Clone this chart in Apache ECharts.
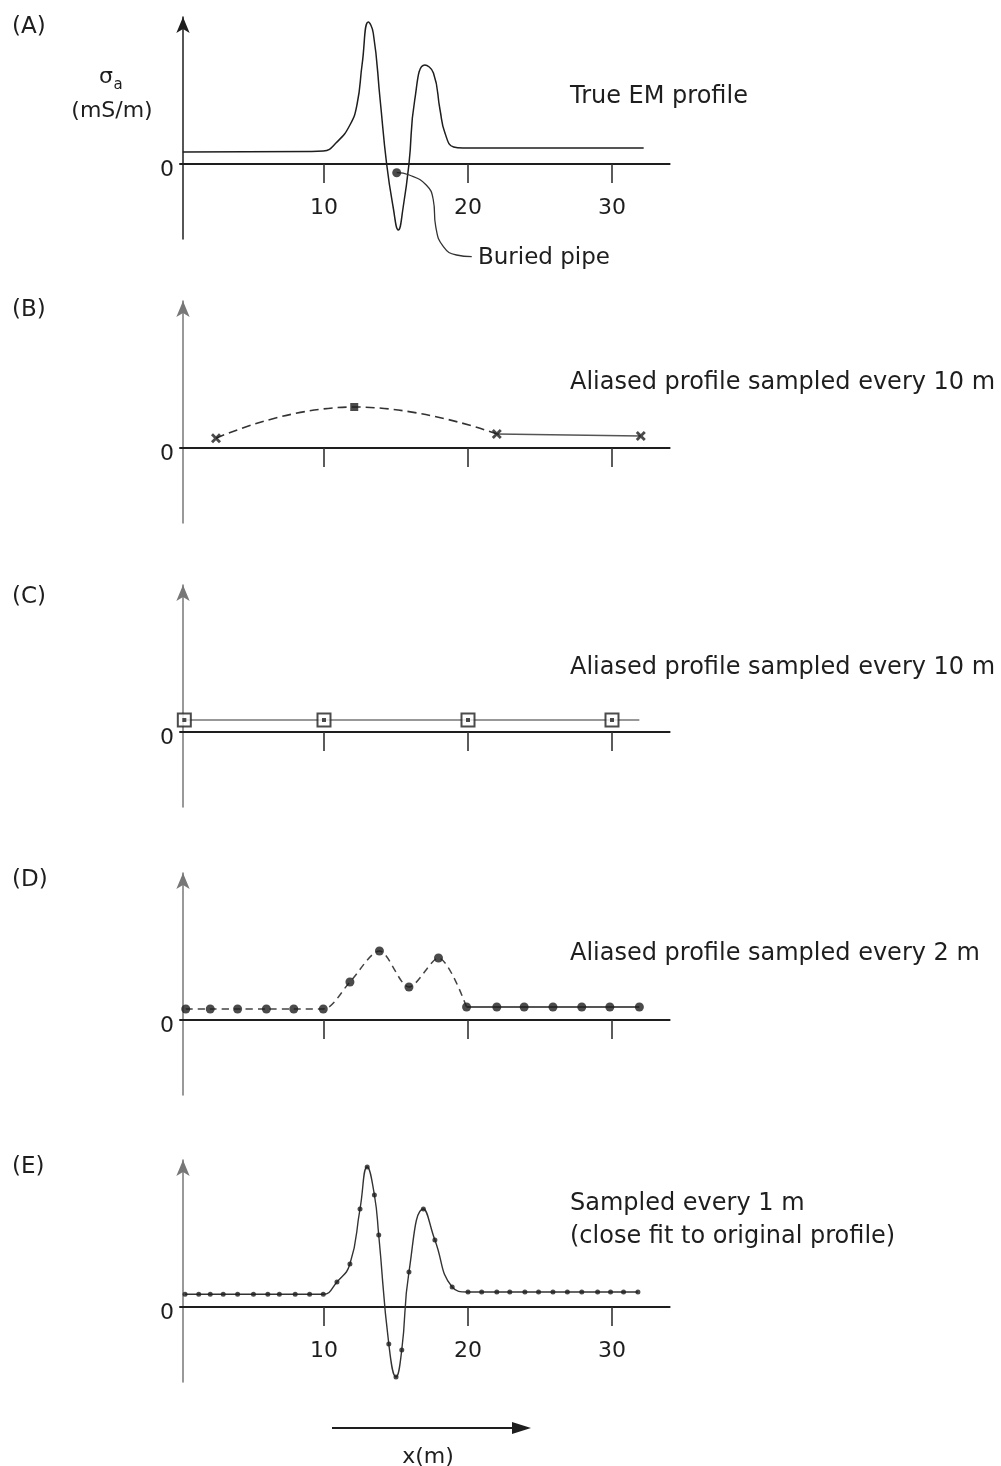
<!DOCTYPE html>
<html><head><meta charset="utf-8">
<script src="https://cdn.jsdelivr.net/npm/echarts@6/dist/echarts.min.js"></script>
<style>html,body{margin:0;padding:0;background:#fff}#c{width:1001px;height:1466px}</style>
</head><body><div id="c"></div>
<script>
// ---------- data (x in m, sigma_a in arbitrary units) ----------
const xTicks = [10, 20, 30];
// (A) true EM profile
const trueX = [0.2, 9.0, 9.95, 10.9, 11.8, 12.3, 12.65, 13.08, 13.42, 13.9, 14.35, 14.8, 15.16, 15.5, 15.9, 16.3, 17.0, 17.6, 18.06, 18.4, 19.0, 19.65, 32.2];
const trueV = [1.2, 1.25, 1.3, 2.2, 3.9, 6.0, 10.0, 14.2, 13.1, 6.4, 0, -4.3, -6.6, -4.3, 0, 6.4, 9.9, 9.1, 5.4, 3.1, 1.7, 1.6, 1.6];
const pipeX = [15.05];
const pipeV = [-0.87];
const leaderX = [15.05, 15.92, 17.1, 17.59, 17.76, 18.29, 19.2, 20.26];
const leaderV = [-0.87, -1.1, -2.1, -3.6, -6.27, -8.27, -9.1, -9.27];
// (B) sampled every 10 m (aliased)
const bX = [2.5, 12.1, 22, 32];
const bV = [0.97, 4.1, 1.4, 1.2];
// (C) sampled every 10 m (aliased)
const cX = [0.3, 10, 20, 30];
const cV = [1.2, 1.2, 1.2, 1.2];
const cTraceX = [0.3, 10, 20, 30, 31.9];
const cTraceV = [1.2, 1.2, 1.2, 1.2, 1.2];
// (D) sampled every 2 m
const dX = [0.4, 2.1, 4, 6, 7.9, 9.95, 11.8, 13.85, 15.9, 17.95, 19.9, 22, 23.9, 25.9, 27.9, 29.85, 31.9];
const dV = [1.1, 1.1, 1.1, 1.1, 1.1, 1.1, 3.8, 6.9, 3.3, 6.2, 1.3, 1.3, 1.3, 1.3, 1.3, 1.3, 1.3];
// (E) sampled every 1 m
const eX = [0.35, 1.3, 2.1, 3, 4, 5.1, 6.1, 6.9, 8, 9, 9.95, 10.9, 11.8, 12.5, 13, 13.5, 13.8, 14.5, 15, 15.4, 15.9, 16.9, 17.7, 18.9, 20, 20.95, 22, 22.9, 23.95, 24.9, 25.9, 26.9, 27.9, 29, 29.9, 30.8, 31.8];
const eV = [1.27, 1.27, 1.27, 1.27, 1.27, 1.27, 1.27, 1.27, 1.27, 1.27, 1.27, 2.5, 4.3, 9.8, 14.0, 11.2, 7.2, -3.7, -7.0, -4.3, 3.5, 9.8, 6.7, 2.0, 1.5, 1.5, 1.5, 1.5, 1.5, 1.5, 1.5, 1.5, 1.5, 1.5, 1.5, 1.5, 1.5];

const panelLabels = ['(A)', '(B)', '(C)', '(D)', '(E)'];
const panelNotes = [['True EM profile'], ['Aliased profile sampled every 10 m'], ['Aliased profile sampled every 10 m'], ['Aliased profile sampled every 2 m'], ['Sampled every 1 m', '(close fit to original profile)']];

// ---------- layout ----------
const FONT = 'DejaVu Sans';
const INK = '#1e1e1e';
const zeroY = [164, 448, 732, 1020, 1307];
const labelY = [27, 310, 597, 880, 1167];
const noteY = [[97], [383], [668], [954], [1204, 1237]];
const zip = (xs, vs) => xs.map((x, i) => [x, vs[i]]);
const crossPath = 'path://M2,0L5,3L8,0L10,2L7,5L10,8L8,10L5,7L2,10L0,8L3,5L0,2Z';

const grids = [], xAxes = [], yAxes = [];
zeroY.forEach((z, i) => {
  grids.push({left: 180, width: 34 * 14.4, top: z - 147, height: 222});
  xAxes.push({
    gridIndex: i, type: 'value', min: 0, max: 34, interval: 10, position: 'bottom', offset: -75,
    axisLine: {onZero: false, lineStyle: {color: INK, width: 2}},
    axisTick: {show: true, length: 19, customValues: xTicks, lineStyle: {color: '#333', width: 1.6}},
    axisLabel: {show: i === 0 || i === 4, customValues: xTicks, margin: 33, fontSize: 22, fontFamily: FONT, color: INK},
    splitLine: {show: false}
  });
  yAxes.push({
    gridIndex: i, type: 'value', min: -7.5, max: 14.7, interval: 7.5, offset: -3,
    axisLine: {show: true, onZero: false, symbol: ['none', 'arrow'], symbolSize: [10, 16],
      lineStyle: {color: i === 0 ? INK : '#777', width: 1.5}},
    axisTick: {show: false}, splitLine: {show: false},
    axisLabel: {formatter: v => (v === 0 ? '0' : ''), margin: 9, fontSize: 22, fontFamily: FONT, color: INK,
      verticalAlign: 'top', lineHeight: 12}
  });
});

const series = [
  // A
  {type: 'line', xAxisIndex: 0, yAxisIndex: 0, data: zip(trueX, trueV), smooth: 0.5, symbol: 'none', lineStyle: {color: INK, width: 1.5}, z: 3},
  {type: 'line', xAxisIndex: 0, yAxisIndex: 0, data: zip(leaderX, leaderV), smooth: 0.5, clip: false, symbol: 'none', lineStyle: {color: '#333', width: 1.3}},
  {type: 'scatter', xAxisIndex: 0, yAxisIndex: 0, data: zip(pipeX, pipeV), symbol: 'circle', symbolSize: 9, itemStyle: {color: INK}, z: 5},
  // B
  {type: 'line', xAxisIndex: 1, yAxisIndex: 1, data: zip(bX, bV).slice(0, 3), smooth: 0.5, symbol: 'none', lineStyle: {color: '#333', width: 1.6, type: [9, 5]}},
  {type: 'line', xAxisIndex: 1, yAxisIndex: 1, data: zip(bX, bV).slice(2), symbol: 'none', lineStyle: {color: '#555', width: 1.3}},
  {type: 'scatter', xAxisIndex: 1, yAxisIndex: 1, z: 5,
    data: zip(bX, bV).map((p, i) => ({value: p, symbol: i === 1 ? 'rect' : crossPath, symbolSize: i === 1 ? 8 : 10})),
    itemStyle: {color: INK}},
  // C
  {type: 'line', xAxisIndex: 2, yAxisIndex: 2, data: zip(cTraceX, cTraceV), symbol: 'none', lineStyle: {color: '#777', width: 1.3}},
  {type: 'scatter', xAxisIndex: 2, yAxisIndex: 2, data: zip(cX, cV), symbol: 'rect', symbolSize: 13, clip: false, z: 5,
    itemStyle: {color: '#fff', borderColor: INK, borderWidth: 2}},
  {type: 'scatter', xAxisIndex: 2, yAxisIndex: 2, data: zip(cX, cV), symbol: 'rect', symbolSize: 4, clip: false, z: 6, itemStyle: {color: INK}},
  // D
  {type: 'line', xAxisIndex: 3, yAxisIndex: 3, data: zip(dX, dV).slice(0, 11), smooth: 0.3, symbol: 'none', lineStyle: {color: '#444', width: 1.5, type: [7, 5]}},
  {type: 'line', xAxisIndex: 3, yAxisIndex: 3, data: zip(dX, dV).slice(10), symbol: 'none', lineStyle: {color: INK, width: 1.5}},
  {type: 'scatter', xAxisIndex: 3, yAxisIndex: 3, data: zip(dX, dV), symbol: 'circle', symbolSize: 9, clip: false, z: 5, itemStyle: {color: INK}},
  // E
  {type: 'line', xAxisIndex: 4, yAxisIndex: 4, data: zip(eX, eV), smooth: 0.5, symbol: 'none', lineStyle: {color: '#333', width: 1.4}},
  {type: 'scatter', xAxisIndex: 4, yAxisIndex: 4, data: zip(eX, eV), symbol: 'circle', symbolSize: 5, clip: false, z: 5, itemStyle: {color: INK}}
];

// ---------- annotations ----------
const graphic = [];
panelLabels.forEach((t, i) => graphic.push({type: 'text', x: 12, y: labelY[i], style: {text: t, font: '23px ' + FONT, fill: INK, verticalAlign: 'middle'}}));
panelNotes.forEach((lines, i) => lines.forEach((t, j) => graphic.push({type: 'text', x: 570, y: noteY[i][j], style: {text: t, font: '24px ' + FONT, fill: INK, verticalAlign: 'middle'}})));
graphic.push({type: 'text', x: 106, y: 77, style: {text: 'σ', font: '22px ' + FONT, fill: INK, align: 'center', verticalAlign: 'middle'}});
graphic.push({type: 'text', x: 118, y: 85, style: {text: 'a', font: '15px ' + FONT, fill: INK, align: 'center', verticalAlign: 'middle'}});
graphic.push({type: 'text', x: 112, y: 111, style: {text: '(mS/m)', font: '22px ' + FONT, fill: INK, align: 'center', verticalAlign: 'middle'}});
graphic.push({type: 'text', x: 478, y: 258, style: {text: 'Buried pipe', font: '23px ' + FONT, fill: INK, verticalAlign: 'middle'}});
graphic.push({type: 'line', shape: {x1: 332, y1: 1428, x2: 516, y2: 1428}, style: {stroke: INK, lineWidth: 2}});
graphic.push({type: 'polygon', shape: {points: [[512, 1422], [531, 1428], [512, 1434]]}, style: {fill: INK}});
graphic.push({type: 'text', x: 428, y: 1457, style: {text: 'x(m)', font: '22px ' + FONT, fill: INK, align: 'center', verticalAlign: 'middle'}});

const chart = echarts.init(document.getElementById('c'), null, {renderer: 'canvas'});
chart.setOption({backgroundColor: '#fff', animation: false, grid: grids, xAxis: xAxes, yAxis: yAxes, series, graphic});
</script></body></html>
